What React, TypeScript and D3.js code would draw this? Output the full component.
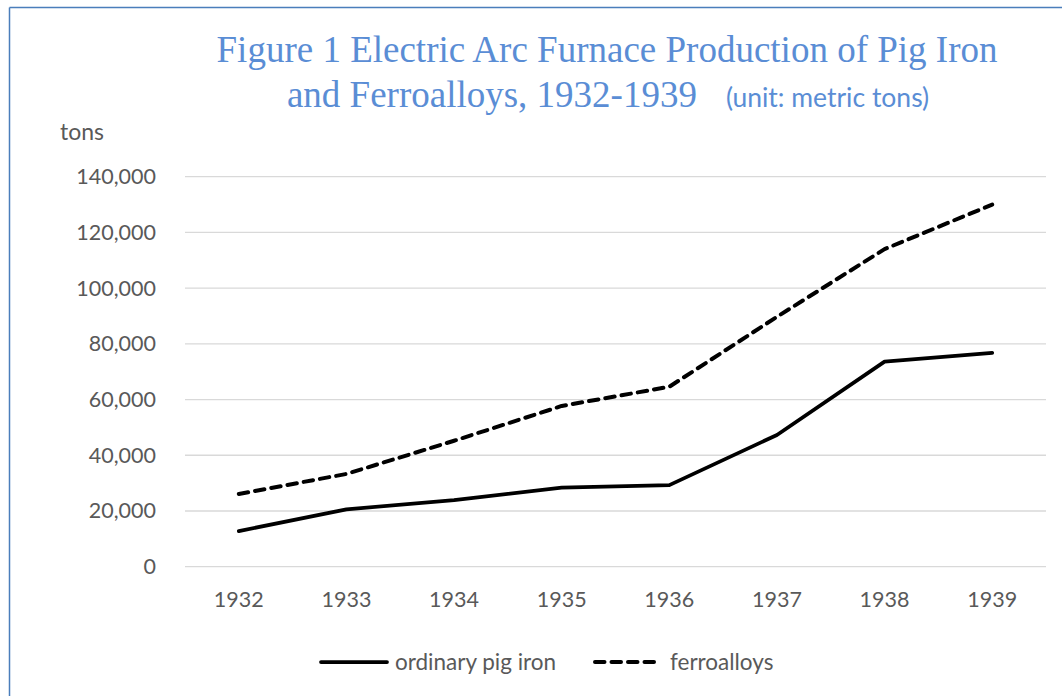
import React from "react";
import * as d3 from "d3";

const years = ["1932", "1933", "1934", "1935", "1936", "1937", "1938", "1939"];
const pigIron = [12800, 20600, 23900, 28400, 29300, 47300, 73600, 76800];
const ferroalloys = [26100, 33300, 45200, 57700, 64600, 89700, 114000, 130000];
const yTicks = [0, 20000, 40000, 60000, 80000, 100000, 120000, 140000];
const seriesNames = ["ordinary pig iron", "ferroalloys"];

const W = 1062;
const H = 696;
const plot = { left: 185, right: 1046, top: 176.7, bottom: 566.7 };
const sans = "Lato, 'Open Sans', sans-serif";
const serif = "'Liberation Serif', 'Times New Roman', serif";
const tickColor = "#595959";
const blue = "#5a8dd5";

export default function App() {
  const x = d3.scaleBand<string>().domain(years).range([plot.left, plot.right]);
  const y = d3.scaleLinear().domain([0, 140000]).range([plot.bottom, plot.top]);
  const line = d3
    .line<number>()
    .x((_, i) => (x(years[i]) as number) + x.bandwidth() / 2)
    .y((d) => y(d));
  const fmt = d3.format(",");

  return (
    <svg
      width={W}
      height={H}
      style={{ position: "absolute", left: 0, top: 0, background: "#fff" }}
    >
      <rect x={0} y={0} width={W} height={H} fill="#fff" />
      {/* border */}
      <line x1={9.5} y1={7.5} x2={W} y2={7.5} stroke="#4a7ebb" strokeWidth={1.5} />
      <line x1={9.5} y1={7.5} x2={9.5} y2={H} stroke="#4a7ebb" strokeWidth={1.5} />

      {/* title */}
      <text x={607} y={62} textAnchor="middle" fontFamily={serif} fontSize={37} fill={blue}>
        Figure 1 Electric Arc Furnace Production of Pig Iron
      </text>
      <text x={608} y={107} textAnchor="middle" fill={blue}>
        <tspan fontFamily={serif} fontSize={37}>and Ferroalloys, 1932-1939</tspan>
        <tspan fontFamily={sans} fontSize={26.5} dx={29}>(unit: metric tons)</tspan>
      </text>

      {/* y axis label */}
      <text x={60} y={140} fontFamily={sans} fontSize={23} fill={tickColor}>
        tons
      </text>

      {/* gridlines and y ticks */}
      {yTicks.map((t) => (
        <g key={t}>
          <line
            x1={plot.left}
            x2={plot.right}
            y1={y(t)}
            y2={y(t)}
            stroke="#d9d9d9"
            strokeWidth={1.3}
          />
          <text
            x={156}
            y={y(t) + 7.5}
            textAnchor="end"
            fontFamily={sans}
            fontSize={21.5}
            fill={tickColor}
          >
            {fmt(t)}
          </text>
        </g>
      ))}

      {/* x ticks */}
      {years.map((yr) => (
        <text
          key={yr}
          x={(x(yr) as number) + x.bandwidth() / 2}
          y={607}
          textAnchor="middle"
          fontFamily={sans}
          fontSize={21.5}
          fill={tickColor}
        >
          {yr}
        </text>
      ))}

      {/* series */}
      <path
        d={line(pigIron) || ""}
        fill="none"
        stroke="#000"
        strokeWidth={3.75}
        strokeLinecap="round"
        strokeLinejoin="round"
      />
      <path
        d={line(ferroalloys) || ""}
        fill="none"
        stroke="#000"
        strokeWidth={4}
        strokeLinecap="round"
        strokeLinejoin="round"
        strokeDasharray="9.5 7"
      />

      {/* legend */}
      <line x1={321} x2={387} y1={662} y2={662} stroke="#000" strokeWidth={3.75} strokeLinecap="round" />
      <text x={395} y={669.5} fontFamily={sans} fontSize={22.5} fill={tickColor}>
        {seriesNames[0]}
      </text>
      <line
        x1={595}
        x2={661}
        y1={662}
        y2={662}
        stroke="#000"
        strokeWidth={4}
        strokeLinecap="round"
        strokeDasharray="9.5 7"
      />
      <text x={670} y={669.5} fontFamily={sans} fontSize={22.5} fill={tickColor}>
        {seriesNames[1]}
      </text>
    </svg>
  );
}
